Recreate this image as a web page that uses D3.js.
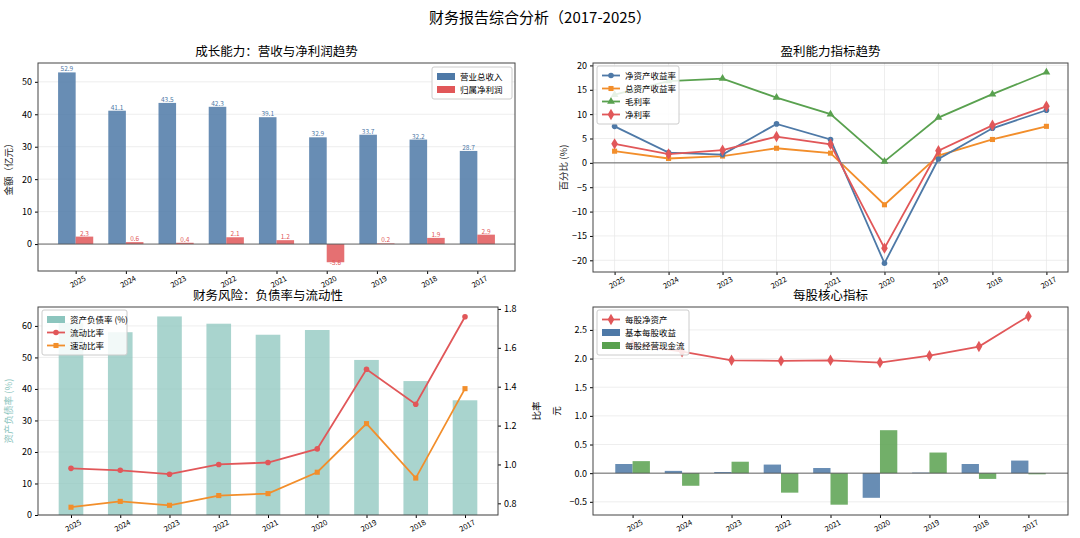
<!DOCTYPE html>
<html><head><meta charset="utf-8">
<script src="https://cdn.jsdelivr.net/npm/d3@7"></script>
<style>
body{margin:0;background:#fff;font-family:"Noto Sans CJK SC",sans-serif;}
text{font-family:"Noto Sans CJK SC",sans-serif;}
</style></head><body>
<script>
const years = ["2025","2024","2023","2022","2021","2020","2019","2018","2017"];
const revenue = [52.9,41.1,43.5,42.3,39.1,32.9,33.7,32.2,28.7];
const netProfit = [2.3,0.6,0.4,2.1,1.2,-5.6,0.2,1.9,2.9];
const roe = [7.5,2.1,1.7,8.0,4.8,-20.6,0.8,7.1,10.8];
const roa = [2.4,0.9,1.4,3.0,2.0,-8.6,1.5,4.8,7.5];
const grossMargin = [14.0,16.8,17.3,13.4,10.0,0.3,9.3,14.1,18.6];
const netMargin = [3.9,1.8,2.6,5.4,3.8,-17.5,2.5,7.7,11.6];
const debtRatio = [61.0,58.0,63.0,60.7,57.2,58.7,49.2,42.5,36.4];
const currentRatio = [0.98,0.97,0.95,1.00,1.01,1.08,1.49,1.31,1.76];
const quickRatio = [0.78,0.81,0.79,0.84,0.85,0.96,1.21,0.93,1.39];
const bvps = [2.25,2.12,1.97,1.96,1.97,1.93,2.05,2.21,2.74];
const eps = [0.16,0.04,0.02,0.15,0.09,-0.43,0.01,0.16,0.22];
const cfps = [0.21,-0.22,0.20,-0.34,-0.55,0.75,0.36,-0.10,-0.02];

const C = {blue:"#4e79a7",orange:"#f28e2b",green:"#59a14f",red:"#e15759",teal:"#8cc5be"};
const svg = d3.select("body").append("svg").attr("width",1080).attr("height",538);
svg.append("text").attr("x",540).attr("y",23).attr("text-anchor","middle").attr("font-size",15).text("财务报告综合分析（2017-2025）");

function panel(box, pad, yDom, yTicks, title, ylab){
  const g = svg.append("g");
  const x = d3.scaleLinear().domain([-pad, years.length-1+pad]).range([box.x0, box.x1]);
  const y = d3.scaleLinear().domain(yDom).range([box.y1, box.y0]);
  g.append("g").selectAll("line").data(yTicks).join("line")
    .attr("x1",box.x0).attr("x2",box.x1).attr("y1",d=>y(d)).attr("y2",d=>y(d))
    .attr("stroke","#e6e6e6").attr("stroke-width",0.7);
  const ya = g.append("g").attr("transform",`translate(${box.x0},0)`).call(d3.axisLeft(y).tickValues(yTicks).tickSize(3));
  ya.select(".domain").remove(); ya.selectAll("text").attr("font-size",9);
  const xa = g.append("g").attr("transform",`translate(0,${box.y1})`).call(d3.axisBottom(x).tickValues(d3.range(years.length)).tickFormat(i=>years[i]).tickSize(3));
  xa.select(".domain").remove();
  xa.selectAll("text").attr("font-size",7.5).attr("text-anchor","end").attr("transform","rotate(-30)").attr("dx","0.6em").attr("dy","0.9em");
  svg.append("text").attr("x",(box.x0+box.x1)/2).attr("y",box.y0-7).attr("text-anchor","middle").attr("font-size",12.5).text(title);
  if(ylab) svg.append("text").attr("transform",`translate(${box.x0-26},${(box.y0+box.y1)/2}) rotate(-90)`).attr("text-anchor","middle").attr("font-size",9.5).attr("fill",ylab.c||"#222").text(ylab.t);
  return {g,x,y,box};
}
function frame(p){
  p.g.append("rect").attr("x",p.box.x0).attr("y",p.box.y0).attr("width",p.box.x1-p.box.x0).attr("height",p.box.y1-p.box.y0).attr("fill","none").attr("stroke","#444").attr("stroke-width",1);
}
function zero(p){
  p.g.append("line").attr("x1",p.box.x0).attr("x2",p.box.x1).attr("y1",p.y(0)).attr("y2",p.y(0)).attr("stroke","#555").attr("stroke-width",0.9);
}
function marker(g,sh,cx,cy,col){
  if(sh==="circle") g.append("circle").attr("cx",cx).attr("cy",cy).attr("r",2.8).attr("fill",col);
  else {
    const t = {square:d3.symbolSquare,tri:d3.symbolTriangle,diamond:d3.symbolDiamond}[sh];
    g.append("path").attr("d",d3.symbol(t, sh==="diamond"?38:26)()).attr("transform",`translate(${cx},${cy})`).attr("fill",col);
  }
}
function line(p,data,col,sh,y){
  y = y||p.y;
  p.g.append("path").datum(data).attr("d",d3.line().x((d,i)=>p.x(i)).y(d=>y(d))).attr("fill","none").attr("stroke",col).attr("stroke-width",1.8);
  data.forEach((d,i)=>marker(p.g,sh,p.x(i),y(d),col));
}
function legend(x0,y0,w,items){
  const g = svg.append("g");
  g.append("rect").attr("x",x0).attr("y",y0).attr("width",w).attr("height",items.length*13+6).attr("fill","#fff").attr("fill-opacity",0.85).attr("stroke","#ccc").attr("rx",2);
  items.forEach((it,i)=>{
    const cy = y0+9.5+i*13;
    if(it.type==="bar") g.append("rect").attr("x",x0+5).attr("y",cy-3.5).attr("width",18).attr("height",7).attr("fill",it.c);
    else { g.append("line").attr("x1",x0+5).attr("x2",x0+23).attr("y1",cy).attr("y2",cy).attr("stroke",it.c).attr("stroke-width",1.8); marker(g,it.sh,x0+14,cy,it.c); }
    g.append("text").attr("x",x0+28).attr("y",cy+3.3).attr("font-size",8.5).text(it.t);
  });
}

// Panel 1
const p1 = panel({x0:38,x1:515,y0:63,y1:271},0.75,[-8.3,55.8],[0,10,20,30,40,50],"成长能力：营收与净利润趋势",{t:"金额（亿元）"});
const bw1 = p1.x(0.35)-p1.x(0);
revenue.forEach((v,i)=>{
  p1.g.append("rect").attr("x",p1.x(i)-bw1).attr("width",bw1).attr("y",p1.y(v)).attr("height",p1.y(0)-p1.y(v)).attr("fill",C.blue).attr("opacity",0.85);
  p1.g.append("text").attr("x",p1.x(i)-bw1/2).attr("y",p1.y(v)-1).attr("text-anchor","middle").attr("font-size",6.5).attr("fill",C.blue).text(v.toFixed(1));
});
netProfit.forEach((v,i)=>{
  p1.g.append("rect").attr("x",p1.x(i)).attr("width",bw1).attr("y",p1.y(Math.max(v,0))).attr("height",Math.abs(p1.y(0)-p1.y(v))).attr("fill",C.red).attr("opacity",0.85);
  p1.g.append("text").attr("x",p1.x(i)+bw1/2).attr("y",v<0?p1.y(v)+3:p1.y(v)-1).attr("text-anchor","middle").attr("font-size",6.5).attr("fill",C.red).text(v.toFixed(1));
});
zero(p1); frame(p1);
legend(432,67,80,[{type:"bar",c:C.blue,t:"营业总收入"},{type:"bar",c:C.red,t:"归属净利润"}]);

// Panel 2
const p2 = panel({x0:593,x1:1068,y0:63,y1:272},0.4,[-22.4,20.5],[-20,-15,-10,-5,0,5,10,15,20],"盈利能力指标趋势",{t:"百分比 (%)"});
p2.g.selectAll(".vg").data(d3.range(9)).join("line").attr("x1",d=>p2.x(d)).attr("x2",d=>p2.x(d)).attr("y1",63).attr("y2",272).attr("stroke","#e6e6e6").attr("stroke-width",0.7);
zero(p2);
line(p2,grossMargin,C.green,"tri");
line(p2,roa,C.orange,"square");
line(p2,roe,C.blue,"circle");
line(p2,netMargin,C.red,"diamond");
frame(p2);
legend(597,66,82,[{c:C.blue,sh:"circle",t:"净资产收益率"},{c:C.orange,sh:"square",t:"总资产收益率"},{c:C.green,sh:"tri",t:"毛利率"},{c:C.red,sh:"diamond",t:"净利率"}]);

// Panel 3
const p3 = panel({x0:38,x1:498,y0:307,y1:515},0.67,[0,66],[0,10,20,30,40,50,60],"财务风险：负债率与流动性",{t:"资产负债率 (%)",c:C.teal});
const bw3 = p3.x(0.5)-p3.x(0);
debtRatio.forEach((v,i)=>p3.g.append("rect").attr("x",p3.x(i)-bw3/2).attr("width",bw3).attr("y",p3.y(v)).attr("height",p3.y(0)-p3.y(v)).attr("fill",C.teal).attr("opacity",0.75));
const y3r = d3.scaleLinear().domain([0.74,1.81]).range([515,307]);
const ra = p3.g.append("g").attr("transform","translate(498,0)").call(d3.axisRight(y3r).tickValues([0.8,1.0,1.2,1.4,1.6,1.8]).tickFormat(d3.format(".1f")).tickSize(3));
ra.select(".domain").remove(); ra.selectAll("text").attr("font-size",9);
svg.append("text").attr("transform","translate(540,411) rotate(-90)").attr("text-anchor","middle").attr("font-size",9.5).text("比率");
line(p3,currentRatio,C.red,"circle",y3r);
line(p3,quickRatio,C.orange,"square",y3r);
frame(p3);
legend(42,310,85,[{type:"bar",c:C.teal,t:"资产负债率 (%)"},{c:C.red,sh:"circle",t:"流动比率"},{c:C.orange,sh:"square",t:"速动比率"}]);

// Panel 4
const p4 = panel({x0:593,x1:1068,y0:307,y1:515},0.8,[-0.73,2.9],[-0.5,0,0.5,1.0,1.5,2.0,2.5],"每股核心指标",null);
p4.g.selectAll(".tick text").filter(function(){return this.parentNode.parentNode.getAttribute("transform").startsWith("translate(593");}).text(function(d){return d3.format(".1f")(d);});
svg.append("text").attr("transform","translate(560,411) rotate(-90)").attr("text-anchor","middle").attr("font-size",9.5).text("元");
const bw4 = p4.x(0.35)-p4.x(0);
eps.forEach((v,i)=>p4.g.append("rect").attr("x",p4.x(i)-bw4).attr("width",bw4).attr("y",p4.y(Math.max(v,0))).attr("height",Math.abs(p4.y(0)-p4.y(v))).attr("fill",C.blue).attr("opacity",0.85));
cfps.forEach((v,i)=>p4.g.append("rect").attr("x",p4.x(i)).attr("width",bw4).attr("y",p4.y(Math.max(v,0))).attr("height",Math.abs(p4.y(0)-p4.y(v))).attr("fill",C.green).attr("opacity",0.85));
zero(p4);
line(p4,bvps,C.red,"diamond");
frame(p4);
legend(597,310,92,[{c:C.red,sh:"diamond",t:"每股净资产"},{type:"bar",c:C.blue,t:"基本每股收益"},{type:"bar",c:C.green,t:"每股经营现金流"}]);
</script></body></html>
